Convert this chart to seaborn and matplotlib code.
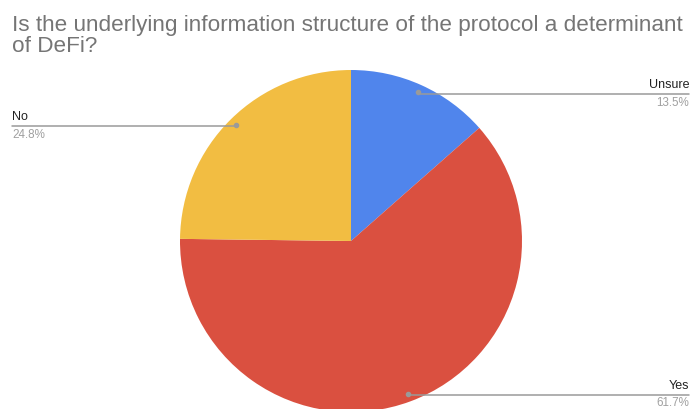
import matplotlib
matplotlib.use("Agg")
import matplotlib.pyplot as plt
import seaborn as sns
import numpy as np

categories = ["Unsure", "Yes", "No"]
values = [13.5, 61.7, 24.8]
pct_labels = ["13.5%", "61.7%", "24.8%"]
colors = ["#5085EC", "#DA5040", "#F2BD42"]

sns.set_theme(style="white")
plt.rcParams['font.family'] = ['Liberation Sans', 'DejaVu Sans']

W, H = 692, 409
fig = plt.figure(figsize=(W / 100, H / 100), dpi=100)
ax = fig.add_axes([0, 0, 1, 1])

cx, cy, R = 351, H - 241, 171
wedges, _ = ax.pie(values, colors=sns.color_palette(colors), startangle=90,
                   counterclock=False, center=(cx, cy), radius=R,
                   wedgeprops=dict(linewidth=0), frame=True)
ax.set_xlim(0, W)
ax.set_ylim(0, H)
ax.set_aspect("equal")
ax.axis("off")

# label placement: (side, line y in px from top)
label_y = {"Unsure": 94, "Yes": 395, "No": 126}
side = {"Unsure": "right", "Yes": "right", "No": "left"}

cum = 0
for cat, v, pl in zip(categories, values, pct_labels):
    mid = (cum + v / 2) / 100 * 2 * np.pi
    cum += v
    r = 0.955 * R
    px = cx + r * np.sin(mid)
    py = cy + r * np.cos(mid)
    ly = H - label_y[cat]
    ax.plot([px], [py], marker="o", ms=3, color="#9a9a9a", zorder=5, clip_on=False)
    if side[cat] == "right":
        xe = 689
        ax.plot([px, xe], [ly, ly], color="#9a9a9a", lw=1.1, zorder=4, clip_on=False)
        ax.text(xe, ly + 3, cat, ha="right", va="bottom", fontsize=9, color="#222222")
        ax.text(xe, ly - 2.5, pl, ha="right", va="top", fontsize=8.4, color="#a0a0a0")
    else:
        xs = 12
        ax.plot([xs, px], [ly, ly], color="#9a9a9a", lw=1.1, zorder=4, clip_on=False)
        ax.text(xs, ly + 3, cat, ha="left", va="bottom", fontsize=9, color="#222222")
        ax.text(xs, ly - 2.5, pl, ha="left", va="top", fontsize=8.4, color="#a0a0a0")

fig.text(12 / W, 1 - 15 / H,
         "Is the underlying information structure of the protocol a determinant\nof DeFi?",
         ha="left", va="top", fontsize=16.2, color="#757575", linespacing=1.03)

fig.savefig("out.png", dpi=100)
